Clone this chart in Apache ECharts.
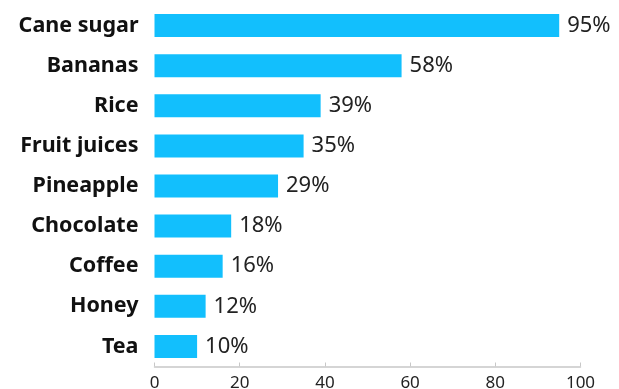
<!DOCTYPE html>
<html>
<head>
<meta charset="utf-8">
<script src="https://cdn.jsdelivr.net/npm/echarts@6/dist/echarts.min.js"></script>
<style>
  html, body { margin: 0; padding: 0; background: #fff; }
  #chart { width: 619px; height: 389px; }
</style>
</head>
<body>
<div id="chart"></div>
<script>
// categories top -> bottom
const categories = ['Cane sugar', 'Bananas', 'Rice', 'Fruit juices', 'Pineapple', 'Chocolate', 'Coffee', 'Honey', 'Tea'];
const values = [95, 58, 39, 35, 29, 18, 16, 12, 10];
const xTicks = [0, 20, 40, 60, 80, 100];

const chart = echarts.init(document.getElementById('chart'));

const option = {
  animation: false,
  textStyle: { fontFamily: 'Noto Sans' },
  grid: { left: 154.5, right: 38.5, top: 5.5, height: 361, outerBoundsMode: 'none', containLabel: false },
  xAxis: {
    type: 'value',
    min: xTicks[0],
    max: xTicks[xTicks.length - 1],
    interval: 20,
    splitLine: { show: false },
    axisLine: { show: true, lineStyle: { color: '#c8c8c8', width: 1.5 } },
    axisTick: { show: true, inside: true, length: 4, lineStyle: { color: '#c8c8c8' } },
    axisLabel: { color: '#222', fontSize: 17, margin: 8 },
  },
  yAxis: {
    type: 'category',
    inverse: true,
    data: categories,
    axisLine: { show: false },
    axisTick: { show: false },
    axisLabel: { color: '#111', fontSize: 21.5, fontWeight: 'bold', margin: 16 },
  },
  series: [
    {
      type: 'bar',
      data: values,
      barWidth: 23,
      itemStyle: { color: '#12bffd' },
      label: {
        show: true,
        position: 'right',
        distance: 8,
        color: '#222',
        fontSize: 22,
        formatter: (p) => p.value + '%',
      },
    },
  ],
};
chart.setOption(option);
</script>
</body>
</html>
